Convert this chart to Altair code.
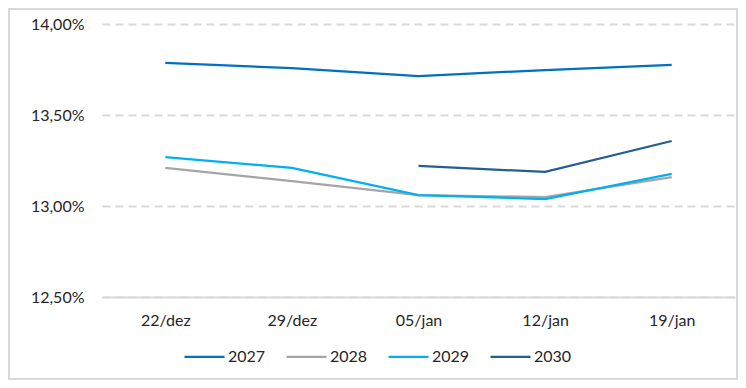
import altair as alt
import pandas as pd

dates = ["22/dez", "29/dez", "05/jan", "12/jan", "19/jan"]
s2027 = [13.786, 13.758, 13.714, 13.747, 13.775]
s2028 = [13.209, 13.137, 13.060, 13.049, 13.159]
s2029 = [13.269, 13.209, 13.060, 13.038, 13.176]
s2030 = [None, None, 13.220, 13.187, 13.357]
series_names = ["2027", "2028", "2029", "2030"]
colors = ["#0070C0", "#A5A5A5", "#00B0F0", "#255E91"]
y_ticks = [12.5, 13.0, 13.5, 14.0]

rows = []
for name, vals in zip(series_names, [s2027, s2028, s2029, s2030]):
    for d, v in zip(dates, vals):
        if v is not None:
            rows.append({"date": d, "serie": name, "value": v})
df = pd.DataFrame(rows)

FONT = "Lato"

lines = alt.Chart(df).mark_line(strokeWidth=2.25).encode(
    x=alt.X("date:N", sort=dates, scale=alt.Scale(type="point", padding=0.5),
            axis=alt.Axis(title=None, labelAngle=0, ticks=False, domain=True,
                          domainColor="#D9D9D9", domainWidth=2, labelPadding=15,
                          labelFontSize=16, labelColor="#262626", labelFont=FONT, grid=False)),
    y=alt.Y("value:Q", scale=alt.Scale(domain=[12.5, 14.0], nice=False, zero=False),
            axis=alt.Axis(title=None, values=y_ticks, ticks=False, domain=False,
                          labelExpr="replace(format(datum.value, '.2f'), '.', ',') + '%'",
                          labelPadding=18, labelFontSize=16, labelColor="#262626", labelFont=FONT,
                          grid=True, gridColor="#D9D9D9", gridWidth=2, gridDash=[8, 5])),
    color=alt.Color("serie:N", sort=series_names,
                    scale=alt.Scale(domain=series_names, range=colors),
                    legend=alt.Legend(title=None, orient="none", direction="horizontal",
                                      legendX=81, legendY=311, symbolType="stroke",
                                      symbolSize=1600, symbolStrokeWidth=2.25,
                                      labelFontSize=16, labelFont=FONT, labelColor="#262626",
                                      columnPadding=16, labelOffset=2)),
)

border = alt.Chart(pd.DataFrame({"a": [0]})).mark_rect(
    fill=None, stroke="#D9D9D9", strokeWidth=2
).encode(x=alt.value(-93), x2=alt.value(635), y=alt.value(-15), y2=alt.value(355))

chart = alt.layer(border, lines).properties(
    width=633, height=273,
    background="white",
    autosize=alt.AutoSizeParams(type="none"),
    padding={"left": 94, "top": 16, "right": 3, "bottom": 83},
).configure_view(stroke=None)

chart.save("out.html", embed_options={"renderer": "svg", "actions": False})
